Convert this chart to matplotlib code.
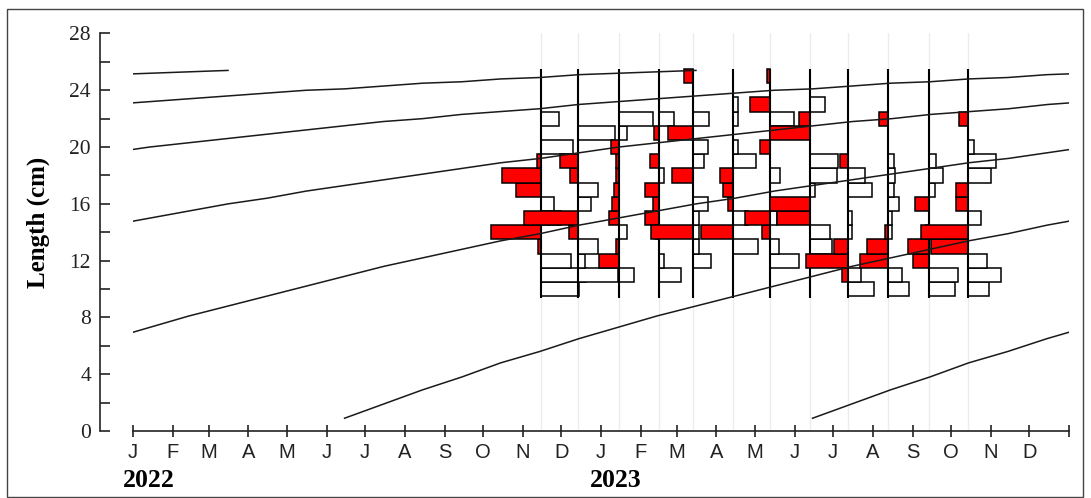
import numpy as np
import pandas as pd
import matplotlib
matplotlib.use('Agg')
import matplotlib.pyplot as plt
import matplotlib.dates as mdates
from matplotlib.patches import Rectangle

# length classes (cm, class mid points) and sampling dates
bins = np.arange(10, 26)
sample_dates = ['2022-11-15', '2022-12-14', '2023-01-15', '2023-02-15',
                '2023-03-14', '2023-04-14', '2023-05-13', '2023-06-13',
                '2023-07-13', '2023-08-13', '2023-09-14', '2023-10-14']

# restructured scores per class 10..25 cm, positive (red, drawn left)
red_scores = [
    [0, 0, 0, 0.3, 5.0, 0, 0, 2.5, 3.9, 0.4, 0, 0, 0, 0, 0, 0],        # Nov 22
    [0, 0, 0, 0, 0.9, 5.4, 0, 0, 0.8, 1.8, 0, 0, 0, 0, 0, 0],          # Dec 22
    [0, 0, 2.0, 0.3, 0, 1.0, 0.7, 0.5, 0.3, 0.3, 0.8, 0, 0, 0, 0, 0],  # Jan 23
    [0, 0, 0, 0, 0.4, 1.4, 0.6, 1.4, 0, 0.9, 0, 0.5, 0, 0, 0, 0],      # Feb 23
    [0, 0, 0, 0, 4.2, 0, 0, 0, 2.1, 0, 0, 2.5, 0, 0, 0, 0.9],          # Mar 23
    [0, 0, 0, 0, 3.2, 0, 0.5, 1.0, 1.3, 0, 0, 0, 0, 0, 0, 0],          # Apr 23
    [0, 0, 0, 0, 0.8, 2.5, 0, 0, 0, 0, 1.0, 0, 0, 2.0, 0, 0.3],        # May 23
    [0, 0, 0, 0, 0, 3.3, 4.0, 0, 0, 0, 0, 4.0, 1.1, 0, 0, 0],          # Jun 23
    [0, 0.6, 4.2, 1.4, 0, 0, 0, 0, 0, 0.8, 0, 0, 0, 0, 0, 0],          # Jul 23
    [0, 0, 2.8, 2.1, 0.3, 0, 0, 0, 0, 0, 0, 0, 0.9, 0, 0, 0],          # Aug 23
    [0, 0, 1.6, 2.1, 0.3, 0, 1.4, 0, 0, 0, 0, 0, 0, 0, 0, 0],          # Sep 23
    [0, 0, 0, 3.7, 4.7, 0, 1.2, 1.2, 0, 0, 0, 0, 0.9, 0, 0, 0],        # Oct 23
]
# negative scores (white, drawn right)
white_scores = [
    [3.8, 4.5, 3.0, 0, 0, 2.0, 1.3, 0, 0, 0, 3.2, 0, 1.8, 0, 0, 0],
    [0, 4.0, 0.7, 2.0, 0, 0, 1.3, 2.0, 0, 0, 0, 3.7, 0, 0, 0, 0],
    [0, 1.5, 0, 0, 0.8, 0, 0, 0, 0, 0, 0, 0.8, 3.4, 0, 0, 0],
    [0, 2.2, 0.5, 0, 0, 0, 0, 0, 0.5, 0, 0, 0, 1.5, 0, 0, 0],
    [0, 0, 1.8, 0.6, 0.6, 0.6, 1.5, 0, 0, 1.1, 1.5, 0, 1.6, 0, 0, 0],
    [0, 0, 0, 2.5, 0, 1.5, 0, 0, 0, 2.3, 0.5, 0, 0.5, 0.5, 0, 0],
    [0, 0, 2.9, 0.9, 0, 0.7, 0, 0, 1.0, 0, 0, 0, 2.4, 0, 0, 0],
    [0, 0, 0, 2.2, 2.0, 0, 0, 0.5, 2.7, 2.8, 0, 0, 0, 1.5, 0, 0],
    [2.6, 1.3, 0, 0, 0.4, 0.4, 0, 2.4, 1.7, 0, 0, 0, 0, 0, 0, 0],
    [2.1, 1.4, 0, 0, 0.4, 0.4, 1.1, 0.6, 0.7, 0.6, 0, 0, 0, 0, 0, 0],
    [2.6, 2.9, 0, 0, 0, 0, 0, 0.6, 1.4, 0.7, 0, 0, 0, 0, 0, 0],
    [2.1, 3.3, 1.9, 0, 0, 1.3, 0, 0, 2.3, 2.8, 0.6, 0, 0, 0, 0, 0],
]

# growth curve: length (cm) at age in months
age_months = np.arange(0, 58)
length_at_age = [0.9, 1.9, 2.9, 3.8, 4.8, 5.6, 6.5, 7.3, 8.1, 8.8,
                 9.5, 10.2, 10.9, 11.6, 12.2, 12.8, 13.4, 13.9, 14.5, 15.0,
                 15.5, 16.0, 16.4, 16.9, 17.3, 17.7, 18.1, 18.5, 18.9, 19.2,
                 19.6, 20.0, 20.3, 20.6, 20.9, 21.2, 21.5, 21.8, 22.0, 22.3,
                 22.5, 22.7, 23.0, 23.2, 23.4, 23.6, 23.8, 24.0, 24.1, 24.3,
                 24.5, 24.6, 24.8, 24.9, 25.1, 25.2, 25.3, 25.4]
cohort_births = ['2017-06-15', '2018-06-15', '2019-06-15', '2020-06-15',
                 '2021-06-15', '2022-06-15', '2023-06-15']

month_letters = ['J', 'F', 'M', 'A', 'M', 'J', 'J', 'A', 'S', 'O', 'N', 'D']

bar_scale = 7.8   # days per score unit
serif = 'Liberation Serif'
sans = 'Liberation Sans'

fig = plt.figure(figsize=(10.91, 4.98), dpi=100)
ax = fig.add_axes([133 / 1091, 67 / 498, 936 / 1091, 397.5 / 498])

xmin = mdates.date2num(pd.Timestamp('2022-01-01'))
xmax = mdates.date2num(pd.Timestamp('2024-01-01'))

sdates = mdates.date2num(pd.to_datetime(sample_dates))
for x in sdates:
    ax.axvline(x, color='#ececec', lw=1.0, zorder=0)

for i, x in enumerate(sdates):
    for j, b in enumerate(bins):
        w = white_scores[i][j]
        if w > 0:
            ax.add_patch(Rectangle((x, b - 0.5), w * bar_scale, 1.0,
                                   facecolor='white', edgecolor='black', lw=1.1, zorder=2))
        r = red_scores[i][j]
        if r > 0:
            ax.add_patch(Rectangle((x - r * bar_scale, b - 0.5), r * bar_scale, 1.0,
                                   facecolor='#ff0000', edgecolor='black', lw=1.1, zorder=2))
    ax.vlines(x, 9.35, 25.5, color='black', lw=1.5, zorder=2)

for birth in cohort_births:
    t = pd.Timestamp(birth) + pd.to_timedelta(age_months * 30.44, unit='D')
    ax.plot(mdates.date2num(t), length_at_age, color='#1a1a1a', lw=1.1, zorder=3)

ax.set_xlim(xmin, xmax)
ax.set_ylim(0, 28)

for s in ['top', 'right']:
    ax.spines[s].set_visible(False)
ax.spines['left'].set_position(('outward', 23.8))
ax.spines['left'].set_linewidth(1.2)
ax.spines['bottom'].set_linewidth(1.2)
ax.spines['left'].set_color('#222222')
ax.spines['bottom'].set_color('#222222')

ax.set_yticks(np.arange(0, 29, 2))
ax.set_yticklabels([str(v) if v % 4 == 0 else '' for v in range(0, 29, 2)],
                   fontsize=15.5, fontfamily=serif)
ax.tick_params(axis='y', direction='in', length=7, width=1.2, pad=6.5, colors='#222222')

ticks = mdates.date2num(pd.date_range('2022-01-01', '2024-01-01', freq='MS'))
ax.set_xticks(ticks)
ax.set_xticklabels(month_letters * 2 + [''], fontsize=14.5, fontfamily=sans)
ax.tick_params(axis='x', direction='inout', length=8, width=1.2, pad=4.5, colors='#222222')

fig.text(38 / 1091, 1 - 222 / 498, 'Length (cm)', rotation=90, ha='center', va='center',
         fontsize=18, fontweight='bold', fontfamily=serif)
fig.text(123 / 1091, 1 - 480 / 498, '2022', ha='left', va='center',
         fontsize=18.5, fontweight='bold', fontfamily=serif)
fig.text(590 / 1091, 1 - 480 / 498, '2023', ha='left', va='center',
         fontsize=18.5, fontweight='bold', fontfamily=serif)

fig.patches.append(Rectangle((7 / 1091, 1 - 497 / 498), 1076 / 1091, 488 / 498,
                             transform=fig.transFigure, fill=False,
                             edgecolor='#444444', lw=1.0))

fig.savefig('out.png', dpi=100)
